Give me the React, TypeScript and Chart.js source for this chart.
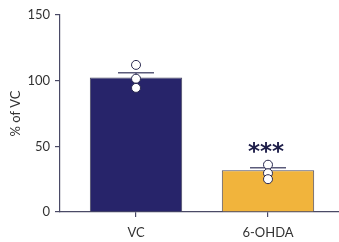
import React, { useEffect, useRef } from "react";
import { Chart, registerables } from "chart.js";

Chart.register(...registerables);

const categories = ["VC", "6-OHDA"];
const means = [102.5, 31.8];
const sems = [3.6, 1.8];
const pointsVC = [112, 101.5, 94.5];
const points6OHDA = [36, 29.5, 25];
const significance = ["", "***"];
const yTicks = [0, 50, 100, 150];
const yTitle = "% of VC";

const barColors = ["#27246a", "#f1b43c"];
const FONT = "Lato, 'Open Sans', sans-serif";

export default function App() {
  const ref = useRef<HTMLCanvasElement>(null);
  useEffect(() => {
    const canvas = ref.current;
    if (!canvas) return;

    const errorPlugin = {
      id: "errbars",
      afterDatasetDraw(chart: any, args: any) {
        if (args.index !== 0) return;
        const ctx = chart.ctx;
        const xs = chart.scales.x;
        const ys = chart.scales.y;
        ctx.save();
        ctx.strokeStyle = "#5b5b7a";
        ctx.lineWidth = 1.5;
        means.forEach((m, i) => {
          const x = xs.getPixelForValue(i);
          const yTop = ys.getPixelForValue(m + sems[i]);
          const yBar = ys.getPixelForValue(m);
          ctx.beginPath();
          ctx.moveTo(x, yBar);
          ctx.lineTo(x, yTop);
          ctx.moveTo(x - 18, yTop);
          ctx.lineTo(x + 18, yTop);
          ctx.stroke();
        });
        ctx.restore();
      },
      afterDatasetsDraw(chart: any) {
        const ctx = chart.ctx;
        const xs = chart.scales.x;
        const ys = chart.scales.y;
        ctx.save();
        ctx.fillStyle = "#1f1f4a";
        ctx.font = "bold 23px 'DejaVu Sans', sans-serif";
        ctx.textAlign = "center";
        ctx.textBaseline = "middle";
        significance.forEach((s, i) => {
          if (!s) return;
          const x = xs.getPixelForValue(i);
          const y = ys.getPixelForValue(means[i] + sems[i]) - 18;
          ctx.fillText(s, x - 2, y + 3);
        });
        ctx.restore();
      },
    };

    const pointData = [
      ...pointsVC.map((v) => ({ x: 0, y: v })),
      ...points6OHDA.map((v) => ({ x: 1, y: v })),
    ];

    const chart = new Chart(canvas, {
      type: "bar",
      data: {
        datasets: [
          {
            type: "bar",
            data: means.map((m, i) => ({ x: i, y: m })),
            backgroundColor: barColors,
            borderColor: "#4a4a62",
            borderWidth: 1,
            barPercentage: 0.7,
            categoryPercentage: 1,
            order: 2,
          } as any,
          {
            type: "scatter",
            data: pointData,
            pointRadius: 4.5,
            pointBackgroundColor: "#ffffff",
            pointBorderColor: "#2a2a50",
            pointBorderWidth: 1,
            clip: false,
            order: 1,
          } as any,
        ],
      },
      plugins: [errorPlugin],
      options: {
        animation: false,
        responsive: false,
        maintainAspectRatio: false,
        layout: { autoPadding: false, padding: { top: 15, right: 0, left: 8, bottom: 0 } },
        plugins: { legend: { display: false }, tooltip: { enabled: false } },
        scales: {
          x: {
            type: "linear",
            offset: false,
            min: -0.576,
            max: 1.538,
            afterBuildTicks: (axis: any) => {
              axis.ticks = [{ value: 0 }, { value: 1 }];
            },
            afterFit: (axis: any) => {
              axis.height = 30;
            },
            ticks: {
              callback: (v: any) => categories[v] ?? "",
              color: "#333333",
              font: { family: FONT, size: 13 },
              padding: 8,
              maxRotation: 0,
              autoSkip: false,
            },
            grid: {
              offset: false,
              drawOnChartArea: false,
              drawTicks: true,
              tickLength: 5,
              color: "#4a4a66",
              lineWidth: 1.2,
            },
            border: { display: true, color: "#4a4a66", width: 1.2 },
          },
          y: {
            min: 0,
            max: 150,
            afterBuildTicks: (axis: any) => {
              axis.ticks = yTicks.map((v) => ({ value: v }));
            },
            afterFit: (axis: any) => {
              axis.width = 52;
            },
            ticks: {
              color: "#333333",
              font: { family: FONT, size: 13 },
              padding: 5,
            },
            grid: {
              drawOnChartArea: false,
              drawTicks: true,
              tickLength: 5,
              color: "#4a4a66",
              lineWidth: 1.2,
            },
            border: { display: true, color: "#4a4a66", width: 1.2 },
            title: {
              display: true,
              text: yTitle,
              color: "#333333",
              font: { family: FONT, size: 13 },
              padding: 0,
            },
          },
        },
      },
    });
    return () => chart.destroy();
  }, []);

  return (
    <div style={{ position: "fixed", left: 0, top: 0, width: 339, height: 242, background: "#fff" }}>
      <canvas ref={ref} width={339} height={242} style={{ width: 339, height: 242 }} />
    </div>
  );
}
